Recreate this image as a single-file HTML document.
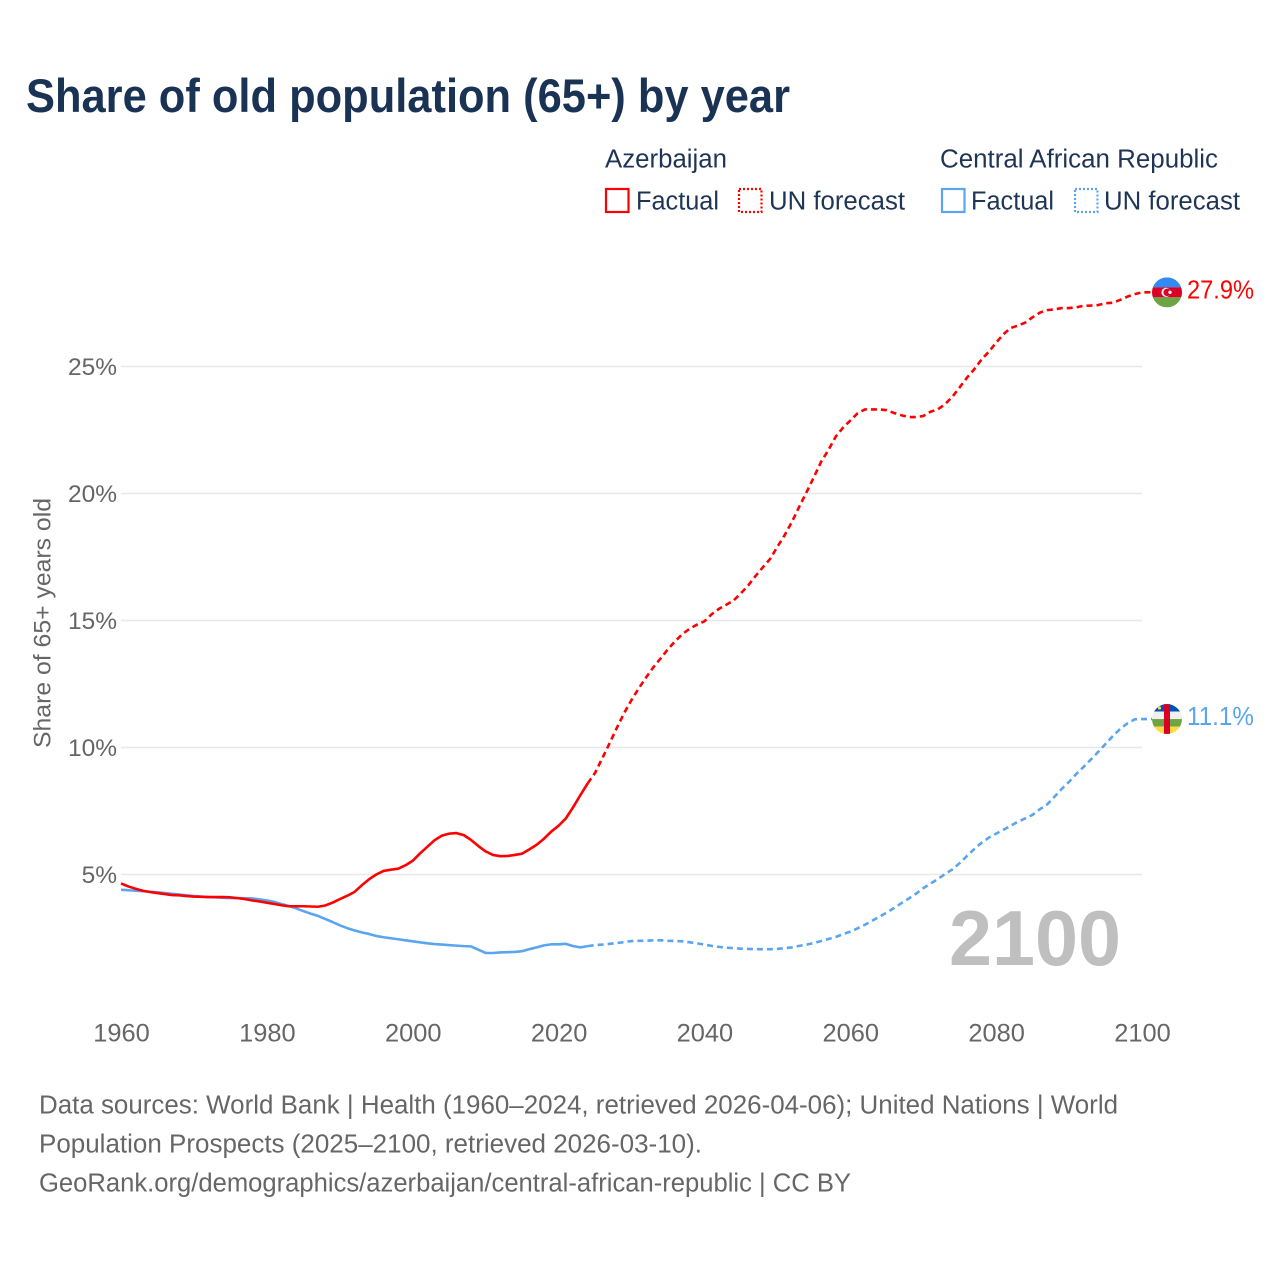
<!DOCTYPE html>
<html lang="en">
<head>
<meta charset="utf-8">
<title>Share of old population (65+) by year</title>
<style>
html,body{margin:0;padding:0;background:#fff;}
body{width:1280px;height:1280px;overflow:hidden;}
svg{display:block;}
text{font-family:"Liberation Sans",sans-serif;}
</style>
</head>
<body>
<svg id="chart" width="1280" height="1280" viewBox="0 0 1280 1280" xmlns="http://www.w3.org/2000/svg">
  <defs>
    <clipPath id="flag-clip-az"><circle cx="0" cy="0" r="15"/></clipPath>
    <clipPath id="flag-clip-car"><circle cx="0" cy="0" r="15"/></clipPath>
  </defs>
  <rect x="0" y="0" width="1280" height="1280" fill="#fff"/>
  <text x="26" y="112" font-size="47" font-weight="700" fill="#1a3354" textLength="764" lengthAdjust="spacingAndGlyphs">Share of old population (65+) by year</text>

  <g font-size="25.5" fill="#1f3556">
    <text x="605" y="167.5" textLength="122" lengthAdjust="spacingAndGlyphs">Azerbaijan</text>
    <rect x="606" y="189" width="22.5" height="23" fill="none" stroke="#ff0000" stroke-width="2.2"/>
    <text x="636" y="209.5" textLength="83" lengthAdjust="spacingAndGlyphs">Factual</text>
    <rect x="739" y="189" width="22.5" height="23" fill="none" stroke="#ff0000" stroke-width="2.2" stroke-dasharray="2 2"/>
    <text x="769" y="209.5" textLength="136" lengthAdjust="spacingAndGlyphs">UN forecast</text>
    <text x="940" y="167.5" textLength="278" lengthAdjust="spacingAndGlyphs">Central African Republic</text>
    <rect x="942" y="189" width="22.5" height="23" fill="none" stroke="#5aa5ef" stroke-width="2.2"/>
    <text x="971" y="209.5" textLength="83" lengthAdjust="spacingAndGlyphs">Factual</text>
    <rect x="1075" y="189" width="22.5" height="23" fill="none" stroke="#5aa5ef" stroke-width="2.2" stroke-dasharray="2 2"/>
    <text x="1104" y="209.5" textLength="136" lengthAdjust="spacingAndGlyphs">UN forecast</text>
  </g>

  <text transform="translate(50.5 748) rotate(-90)" x="0" y="0" font-size="24" fill="#666" textLength="250" lengthAdjust="spacingAndGlyphs">Share of 65+ years old</text>

  <g id="grid"></g>
  <g id="y-ticks"></g>
  <g id="x-ticks"></g>

  <text x="949" y="965" font-size="78" font-weight="700" fill="#bfbfbf" textLength="172" lengthAdjust="spacingAndGlyphs">2100</text>

  <g id="series"></g>
  <g id="ends"></g>

  <g font-size="25.5" fill="#666">
    <text x="39" y="1113.5" textLength="1079" lengthAdjust="spacingAndGlyphs">Data sources: World Bank | Health (1960–2024, retrieved 2026-04-06); United Nations | World</text>
    <text x="39" y="1152.5" textLength="663" lengthAdjust="spacingAndGlyphs">Population Prospects (2025–2100, retrieved 2026-03-10).</text>
    <text x="39" y="1191.5" textLength="812" lengthAdjust="spacingAndGlyphs">GeoRank.org/demographics/azerbaijan/central-african-republic | CC BY</text>
  </g>
</svg>
<script>
const factualStartYear = 1960;
const forecastStartYear = 2025;
const yTickValues = [5, 10, 15, 20, 25];
const yTickLabels = ["5%", "10%", "15%", "20%", "25%"];
const xTickValues = [1960, 1980, 2000, 2020, 2040, 2060, 2080, 2100];
const xTickLabels = ["1960", "1980", "2000", "2020", "2040", "2060", "2080", "2100"];
const azFactual = [4.65,4.53,4.44,4.36,4.31,4.27,4.23,4.19,4.18,4.15,4.13,4.12,4.11,4.11,4.11,4.10,4.07,4.03,3.98,3.94,3.89,3.84,3.79,3.75,3.75,3.75,3.74,3.73,3.78,3.89,4.03,4.16,4.31,4.57,4.81,5.00,5.14,5.19,5.23,5.36,5.54,5.83,6.09,6.35,6.53,6.61,6.63,6.55,6.36,6.12,5.91,5.77,5.72,5.73,5.77,5.82,5.99,6.17,6.41,6.69,6.92,7.21,7.65,8.13,8.59];
const azForecast = [9.00,9.58,10.17,10.78,11.36,11.87,12.33,12.76,13.16,13.51,13.87,14.19,14.47,14.68,14.84,14.97,15.25,15.46,15.62,15.79,16.07,16.38,16.75,17.09,17.42,17.90,18.36,18.88,19.48,20.05,20.64,21.25,21.71,22.24,22.59,22.87,23.16,23.31,23.31,23.31,23.28,23.17,23.08,23.01,23.01,23.05,23.22,23.31,23.52,23.81,24.18,24.56,24.89,25.28,25.58,25.94,26.27,26.52,26.61,26.73,26.94,27.12,27.22,27.25,27.30,27.30,27.33,27.39,27.40,27.42,27.49,27.51,27.62,27.75,27.85,27.92];
const carFactual = [4.40,4.38,4.36,4.34,4.32,4.30,4.27,4.24,4.21,4.18,4.15,4.13,4.11,4.10,4.08,4.07,4.07,4.07,4.06,4.02,3.98,3.92,3.84,3.76,3.67,3.56,3.46,3.37,3.25,3.13,3.00,2.89,2.80,2.72,2.66,2.58,2.53,2.49,2.45,2.41,2.37,2.33,2.29,2.26,2.24,2.22,2.20,2.18,2.17,2.04,1.91,1.91,1.93,1.94,1.95,1.98,2.06,2.13,2.21,2.25,2.25,2.27,2.18,2.13,2.18];
const carForecast = [2.22,2.24,2.27,2.30,2.34,2.38,2.39,2.39,2.41,2.41,2.39,2.38,2.37,2.33,2.29,2.24,2.19,2.15,2.12,2.10,2.08,2.07,2.06,2.06,2.06,2.07,2.10,2.13,2.19,2.24,2.30,2.38,2.46,2.54,2.65,2.75,2.88,3.02,3.18,3.34,3.50,3.68,3.87,4.05,4.24,4.46,4.64,4.82,5.02,5.20,5.45,5.73,6.00,6.25,6.45,6.61,6.76,6.92,7.08,7.21,7.35,7.57,7.76,8.06,8.37,8.65,8.96,9.24,9.53,9.83,10.14,10.45,10.73,10.95,11.11,11.12];
const azEndLabel = "27.9%";
const carEndLabel = "11.1%";

const NS = "http://www.w3.org/2000/svg";
const plot = { x0: 121, x1: 1142, y5: 874.5, pxPerPct: 25.4 };
function xScale(year) { return plot.x0 + (year - 1960) * (plot.x1 - plot.x0) / 140; }
function yScale(v) { return plot.y5 - (v - 5) * plot.pxPerPct; }
function make(tag, attrs, parent) {
  const el = document.createElementNS(NS, tag);
  for (const k in attrs) el.setAttribute(k, attrs[k]);
  parent.appendChild(el);
  return el;
}
function pathFrom(startYear, values, prefix) {
  const pts = values.map((v, i) => xScale(startYear + i).toFixed(2) + " " + yScale(v).toFixed(2));
  return (prefix ? prefix + " L" : "M") + pts.join(" L");
}

const grid = document.getElementById("grid");
const yTicks = document.getElementById("y-ticks");
yTickValues.forEach((v, i) => {
  const line = make("line", { x1: plot.x0, x2: plot.x1, y1: yScale(v), y2: yScale(v), stroke: "#e8e8e8", "stroke-width": 1.4 }, grid);
  
  
  const t = make("text", { x: 117, y: yScale(v) + 8.5, "text-anchor": "end", "font-size": 24.5, fill: "#666" }, yTicks);
  
  
  t.textContent = yTickLabels[i];
});

const xTicks = document.getElementById("x-ticks");
xTickValues.forEach((yr, i) => {
  const t = make("text", { x: xScale(yr) + 0.5, y: 1041.5, "text-anchor": "middle", "font-size": 25.4, fill: "#666" }, xTicks);
  
  
  t.textContent = xTickLabels[i];
});

const series = document.getElementById("series");
const RED = "#ff0000", BLUE = "#5aa5ef";
function drawSeries(factual, forecast, color, key) {
  const common = { fill: "none", stroke: color, "stroke-width": 2.6, "stroke-linejoin": "round" };
  const lastFactualYear = factualStartYear + factual.length - 1;
  const joinPoint = "M" + xScale(lastFactualYear).toFixed(2) + " " + yScale(factual[factual.length - 1]).toFixed(2);
  const fore = make("path", Object.assign({ d: pathFrom(forecastStartYear, forecast, joinPoint) + " H1152", "stroke-dasharray": "6 4" }, common), series);
  
  
  const fact = make("path", Object.assign({ d: pathFrom(factualStartYear, factual, "") }, common), series);
  
  
}
drawSeries(carFactual, carForecast, BLUE, "central-african-republic");
drawSeries(azFactual, azForecast, RED, "azerbaijan");

const ends = document.getElementById("ends");
const azY = yScale(azForecast[azForecast.length - 1]);
const carY = yScale(carForecast[carForecast.length - 1]);

const azFlag = make("g", { transform: "translate(1167 " + azY + ")", "clip-path": "url(#flag-clip-az)" }, ends);


make("rect", { x: -15, y: -15, width: 30, height: 10, fill: "#338af3" }, azFlag);
make("rect", { x: -15, y: -5, width: 30, height: 10, fill: "#d80027" }, azFlag);
make("rect", { x: -15, y: 5, width: 30, height: 10, fill: "#6da544" }, azFlag);
make("circle", { cx: -1, cy: 0, r: 4.6, fill: "#f0f0f0" }, azFlag);
make("circle", { cx: 0.2, cy: 0, r: 3.7, fill: "#d80027" }, azFlag);
make("circle", { cx: 3, cy: 0, r: 1.7, fill: "#f0f0f0" }, azFlag);

const carFlag = make("g", { transform: "translate(1167 " + carY + ")", "clip-path": "url(#flag-clip-car)" }, ends);


make("rect", { x: -15, y: -15, width: 30, height: 7.5, fill: "#0052b4" }, carFlag);
make("rect", { x: -15, y: -7.5, width: 30, height: 7.5, fill: "#f0f0f0" }, carFlag);
make("rect", { x: -15, y: 0, width: 30, height: 7.5, fill: "#6da544" }, carFlag);
make("rect", { x: -15, y: 7.5, width: 30, height: 7.5, fill: "#ffda44" }, carFlag);
make("rect", { x: -3, y: -15, width: 6, height: 30, fill: "#d80027" }, carFlag);
make("circle", { cx: -7.5, cy: -11, r: 1.6, fill: "#ffda44" }, carFlag);

const azLabel = make("text", { x: 1187, y: azY + 6, "font-size": 25.5, fill: RED, textLength: 67, lengthAdjust: "spacingAndGlyphs" }, ends);


azLabel.textContent = azEndLabel;
const carLabel = make("text", { x: 1187, y: carY + 6, "font-size": 25.5, fill: BLUE, textLength: 67, lengthAdjust: "spacingAndGlyphs" }, ends);


carLabel.textContent = carEndLabel;
</script>
</body>
</html>
